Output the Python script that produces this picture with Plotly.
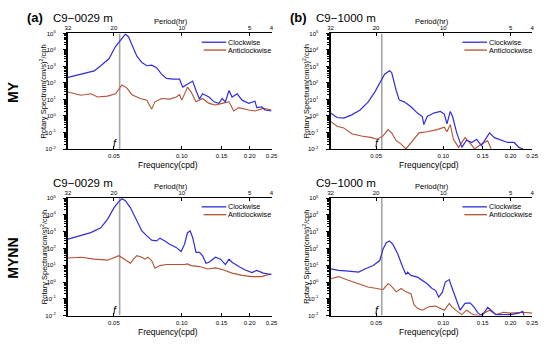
import math
import plotly.graph_objects as go

W, H = 550, 349

# ---------------- data (frequency in cph, spectrum in (cm/s)^2/cph) ----------------
freq_a_cw = [0.03125, 0.0409, 0.0437, 0.0475, 0.0508, 0.0535, 0.0562, 0.058, 0.061, 0.0632,
             0.0665, 0.070, 0.0735, 0.0773, 0.0813, 0.0855, 0.0914, 0.0977, 0.101, 0.106,
             0.1117, 0.1156, 0.1197, 0.1236, 0.132, 0.139, 0.146, 0.151, 0.156, 0.162,
             0.167, 0.176, 0.185, 0.198, 0.211, 0.215, 0.226, 0.234, 0.25]
spec_a_cw = [220, 540, 1.1e3, 2.9e3, 1.6e4, 4.0e4, 9.1e4, 6.3e4, 1.3e4, 4.2e3,
             1.7e3, 1.1e3, 1.2e3, 850, 340, 190, 170, 170, 56, 87,
             130, 35, 10.5, 22, 14, 7.2, 5.8, 11.5, 7.2, 35,
             14, 22, 9.1, 5.8, 7.9, 3.2, 3.6, 2.3, 2.0]

freq_a_acw = [0.03125, 0.0357, 0.0395, 0.0423, 0.0468, 0.0508, 0.0543, 0.0571, 0.0601, 0.0653,
              0.070, 0.0735, 0.076, 0.0813, 0.0883, 0.0944, 0.0977, 0.100, 0.106, 0.110,
              0.1156, 0.1236, 0.132, 0.141, 0.151, 0.162, 0.17, 0.179, 0.198, 0.211,
              0.23, 0.25]
spec_a_acw = [28, 18, 22, 14, 16, 22, 76, 49, 19.5, 11.5,
              9.1, 2.6, 7.2, 11.5, 10.5, 14, 19.5, 9.1, 56, 28,
              7.2, 11.5, 5.8, 4.6, 5.8, 7.2, 2.0, 3.2, 2.3, 2.0,
              2.9, 2.3]

freq_b_cw = [0.03125, 0.0334, 0.0358, 0.0389, 0.0424, 0.0461, 0.0493, 0.0519, 0.0546, 0.0574,
             0.0587, 0.0615, 0.0635, 0.0668, 0.0716, 0.0766, 0.0805, 0.0818, 0.0847, 0.0906,
             0.097, 0.101, 0.1038, 0.1074, 0.110, 0.1148, 0.121, 0.127, 0.134, 0.141,
             0.148, 0.153, 0.161, 0.1694, 0.181, 0.194, 0.2075, 0.218, 0.2275]
spec_b_cw = [1.5, 0.81, 0.74, 1.17, 2.3, 7.2, 28, 110, 340, 540,
             430, 35, 9.1, 7.2, 3.6, 1.5, 0.93, 0.30, 0.93, 1.5,
             1.9, 1.3, 0.33, 1.9, 0.93, 0.095, 0.0126, 0.034, 0.025, 0.039,
             0.016, 0.032, 0.095, 0.049, 0.034, 0.025, 0.025, 0.0126, 0.0101]

freq_b_acw = [0.03125, 0.0334, 0.0358, 0.0389, 0.043, 0.0478, 0.0505, 0.0537, 0.0565, 0.0587,
              0.0615, 0.0647, 0.068, 0.0716, 0.0778, 0.0847, 0.0938, 0.101, 0.1038, 0.1074,
              0.111, 0.117, 0.125, 0.131, 0.138, 0.148, 0.158, 0.1637]
spec_b_acw = [0.47, 0.24, 0.19, 0.085, 0.062, 0.049, 0.039, 0.062, 0.15, 0.095,
              0.032, 0.02, 0.0101, 0.025, 0.095, 0.11, 0.15, 0.21, 0.11, 0.30,
              0.039, 0.0126, 0.049, 0.025, 0.0101, 0.02, 0.032, 0.0101]

freq_c_cw = [0.03125, 0.0357, 0.0395, 0.0437, 0.0468, 0.05, 0.0526, 0.0543, 0.0562, 0.0592,
             0.0632, 0.0665, 0.070, 0.0735, 0.0773, 0.080, 0.0841, 0.0883, 0.0944, 0.0993,
             0.1028, 0.106, 0.1089, 0.1117, 0.1156, 0.1197, 0.1236, 0.128, 0.132, 0.141,
             0.1486, 0.156, 0.162, 0.167, 0.179, 0.19, 0.2046, 0.215, 0.23, 0.25]
spec_c_cw = [355, 560, 870, 1.7e3, 5.4e3, 2.6e4, 6.3e4, 9.1e4, 6.9e4, 2.6e4,
             4.3e3, 1.1e3, 560, 310, 280, 410, 280, 178, 115, 66,
             178, 870, 1.1e3, 450, 58, 58, 37, 13, 15, 30,
             23, 11, 23, 15, 8.3, 5.4, 3.7, 4.9, 3.4, 2.8]

freq_c_acw = [0.03125, 0.0357, 0.0409, 0.0468, 0.0526, 0.0562, 0.0592, 0.061, 0.0632, 0.0665,
              0.0686, 0.0707, 0.0735, 0.076, 0.080, 0.0855, 0.0944, 0.1028, 0.106, 0.110,
              0.1197, 0.13, 0.141, 0.1525, 0.167, 0.185, 0.2046, 0.226, 0.25]
spec_c_acw = [27, 30, 23, 20, 37, 20, 13, 23, 37, 30,
              23, 30, 19, 6.6, 9.5, 11, 10.5, 11, 12, 9.5,
              8.3, 6.0, 6.9, 5.4, 3.4, 2.5, 2.1, 2.1, 3.1]

freq_d_cw = [0.03125, 0.034, 0.0376, 0.0417, 0.0446, 0.0485, 0.0519, 0.0537, 0.0555, 0.0574,
             0.0594, 0.0625, 0.0658, 0.068, 0.0692, 0.0716, 0.0766, 0.0805, 0.0847, 0.089,
             0.0923, 0.0953, 0.099, 0.102, 0.1063, 0.109, 0.1148, 0.119, 0.125, 0.1315,
             0.1368, 0.143, 0.149, 0.158, 0.1637, 0.172, 0.2, 0.218, 0.2265, 0.23]
spec_d_cw = [6.0, 4.9, 4.5, 3.9, 6.0, 9.5, 19, 91, 220, 280,
             178, 47, 7.6, 2.8, 3.9, 2.5, 1.95, 1.26, 0.79, 0.41,
             0.32, 0.126, 0.25, 1.0, 1.4, 0.5, 0.083, 0.021, 0.054, 0.058,
             0.034, 0.014, 0.0101, 0.031, 0.021, 0.0115, 0.0115, 0.014, 0.018, 0.0101]

freq_d_acw = [0.03125, 0.034, 0.037, 0.0417, 0.0459, 0.0505, 0.0537, 0.0565, 0.0581, 0.0615,
              0.0647, 0.068, 0.0716, 0.074, 0.0766, 0.0805, 0.086, 0.0923, 0.097, 0.101,
              0.1063, 0.109, 0.1148, 0.121, 0.127, 0.136, 0.145, 0.161, 0.172, 0.186,
              0.2, 0.2265, 0.25]
spec_d_acw = [1.58, 2.1, 1.38, 0.79, 0.51, 0.41, 0.35, 0.79, 0.63, 0.26,
              0.41, 0.26, 0.2, 0.043, 0.027, 0.021, 0.034, 0.037, 0.027, 0.021,
              0.054, 0.034, 0.019, 0.0115, 0.021, 0.0115, 0.0101, 0.021, 0.0115, 0.016,
              0.014, 0.016, 0.014]

freq_tick_vals = [0.05, 0.10, 0.15, 0.20, 0.25]
freq_tick_text = ["0.05", "0.10", "0.15", "0.20", "0.25"]
period_ticks_hr = [32, 20, 10, 5, 4]
y_tick_exponents = [-2, -1, 0, 1, 2, 3, 4, 5]
f_inertial = 0.053
freq_range = [1 / 32, 0.25]

panel_titles = ["C9\u22120029 m", "C9\u22121000 m", "C9\u22120029 m", "C9\u22121000 m"]
panel_letters = ["(a)", "(b)", None, None]
row_labels = ["MY", "MYNN"]
series_names = ["Clockwise", "Anticlockwise"]

panels = [
    (freq_a_cw, spec_a_cw, freq_a_acw, spec_a_acw),
    (freq_b_cw, spec_b_cw, freq_b_acw, spec_b_acw),
    (freq_c_cw, spec_c_cw, freq_c_acw, spec_c_acw),
    (freq_d_cw, spec_d_cw, freq_d_acw, spec_d_acw),
]

# ---------------- layout geometry (pixels) ----------------
BLUE = "rgb(50,45,215)"
BROWN = "rgb(178,82,52)"
FONT = "Liberation Sans, Arial, sans-serif"

col_px = [(66, 273), (333, 538)]
row_px = [(30, 148), (198, 318)]

minor_y = [m * 10 ** e for e in y_tick_exponents[:-1] for m in (2, 3, 4, 5, 6, 7, 8, 9)]


def px(x):
    return x / W


def py(y):
    return 1 - y / H


fig = go.Figure()
layout = dict(
    width=W, height=H, margin=dict(l=0, r=0, t=0, b=0),
    paper_bgcolor="white", plot_bgcolor="white", showlegend=False,
    font=dict(family=FONT, color="black"),
)
annotations = []
shapes = []

xr = [math.log10(freq_range[0]), math.log10(freq_range[1])]

for i, (fcw, scw, facw, sacw) in enumerate(panels):
    n = i + 1
    ntop = i + 5
    r, c = divmod(i, 2)
    x0, x1 = col_px[c]
    y0, y1 = row_px[r]
    xs = "" if n == 1 else str(n)
    xa, ya, xt = "x" + xs, "y" + xs, "x" + str(ntop)

    fig.add_trace(go.Scatter(x=[f_inertial, f_inertial], y=[10 ** -2, 10 ** 5], mode="lines",
                             line=dict(color="rgb(165,165,165)", width=1.6),
                             xaxis=xa, yaxis=ya, hoverinfo="skip"))
    fig.add_trace(go.Scatter(x=facw, y=sacw, mode="lines", name=series_names[1],
                             line=dict(color=BROWN, width=1.1), xaxis=xa, yaxis=ya))
    fig.add_trace(go.Scatter(x=fcw, y=scw, mode="lines", name=series_names[0],
                             line=dict(color=BLUE, width=1.2), xaxis=xa, yaxis=ya))
    # invisible trace to bind top period axis
    fig.add_trace(go.Scatter(x=[freq_range[0]], y=[None], mode="lines", xaxis=xt, yaxis=ya,
                             showlegend=False, hoverinfo="skip"))

    layout["xaxis" + xs] = dict(
        type="log", range=xr, domain=[px(x0), px(x1)], anchor=ya,
        tickvals=freq_tick_vals, ticktext=freq_tick_text, ticks="inside", ticklen=3,
        tickwidth=1, tickcolor="black", showline=True, linecolor="black", linewidth=1,
        showgrid=False, zeroline=False, tickfont=dict(size=6), ticklabelstandoff=1,
    )
    layout["xaxis" + str(ntop)] = dict(
        type="log", range=xr, overlaying=xa, anchor=ya, side="top",
        tickvals=[1 / p for p in period_ticks_hr], ticktext=[str(p) for p in period_ticks_hr],
        ticks="inside", ticklen=3, tickcolor="black", showline=True, linecolor="black",
        linewidth=1, showgrid=False, zeroline=False, tickfont=dict(size=6),
    )
    layout["yaxis" + xs] = dict(
        type="log", range=[-2, 5], domain=[py(y1), py(y0)], anchor=xa,
        tickvals=[10 ** e for e in y_tick_exponents],
        ticktext=["10<sup>%d</sup>" % e for e in y_tick_exponents],
        ticks="outside", ticklen=3, tickcolor="black", showline=True, linecolor="black",
        linewidth=2, showgrid=False, zeroline=False, tickfont=dict(size=6),
        ticklabelstandoff=6,
        minor=dict(tickvals=minor_y, ticks="outside", ticklen=1.5, tickcolor="black", showgrid=False),
    )

    cx = (x0 + x1) / 2
    # titles
    if panel_letters[i]:
        annotations.append(dict(text="<b>" + panel_letters[i] + "</b>", x=px(x0 - 33), y=py(y0 - 16),
                                xref="paper", yref="paper", showarrow=False, xanchor="center",
                                yanchor="middle", font=dict(size=13)))
    annotations.append(dict(text=panel_titles[i], x=px(x0 - 17), y=py(y0 - 16 if r == 0 else y0 - 15),
                            xref="paper", yref="paper", showarrow=False, xanchor="left",
                            yanchor="middle", font=dict(size=11.5)))
    annotations.append(dict(text="Period(hr)", x=px(cx + 1), y=py(y0 - 12), xref="paper", yref="paper",
                            showarrow=False, xanchor="center", yanchor="middle", font=dict(size=7.5)))
    annotations.append(dict(text="Frequency(cpd)", x=px(cx - 2), y=py(y1 + 16.5), xref="paper",
                            yref="paper", showarrow=False, xanchor="center", yanchor="middle",
                            font=dict(size=8.5)))
    annotations.append(dict(text="Rotary Spectrum(cm/s)<sup>2</sup>/cph", x=px(x0 - 25),
                            y=py((y0 + y1) / 2), xref="paper", yref="paper", showarrow=False,
                            textangle=-90, xanchor="center", yanchor="middle", font=dict(size=7.5)))
    # inertial label
    annotations.append(dict(text="<i>f</i>", xref=xa + " domain", yref="paper", x=0.252,
                            y=py(y1 - 6), showarrow=False, xanchor="right", yanchor="middle",
                            font=dict(size=10.5)))
    # legend
    lx0 = x0 + (136 if c == 0 else 134)
    lx1 = lx0 + 25
    for k, (nm, col) in enumerate(zip(series_names, [BLUE, BROWN])):
        ly = y0 + 9 + 8 * k
        shapes.append(dict(type="line", xref="paper", yref="paper", x0=px(lx0 + 2 * k), x1=px(lx1),
                           y0=py(ly), y1=py(ly), line=dict(color=col, width=1.3)))
        annotations.append(dict(text=nm, x=px(lx1 + 1), y=py(ly), xref="paper", yref="paper",
                                showarrow=False, xanchor="left", yanchor="middle", borderpad=0,
                                font=dict(size=7.2)))

for r, lab in enumerate(row_labels):
    y0, y1 = row_px[r]
    annotations.append(dict(text="<b>" + lab + "</b>", x=px(10), y=py((y0 + y1) / 2 + 1),
                            xref="paper", yref="paper", showarrow=False, textangle=-90,
                            xanchor="center", yanchor="middle", font=dict(size=14)))

layout["annotations"] = annotations
layout["shapes"] = shapes
fig.update_layout(**layout)
fig.write_html("out.html", config={"displayModeBar": False},
               post_script="document.body.style.margin='0';")
